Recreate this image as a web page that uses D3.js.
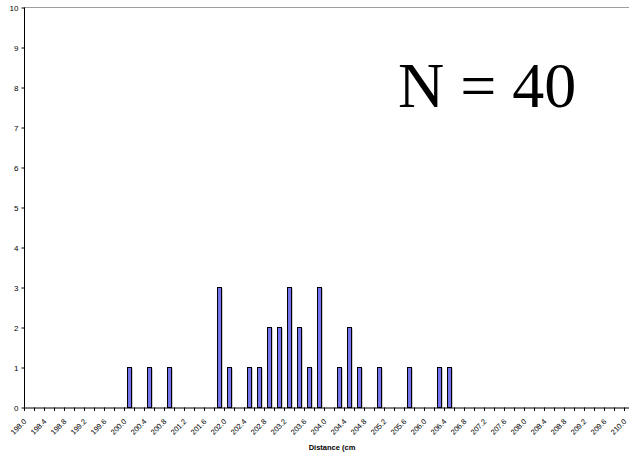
<!DOCTYPE html>
<html><head><meta charset="utf-8">
<script src="https://cdn.jsdelivr.net/npm/d3@7"></script>
<style>html,body{margin:0;padding:0;background:#fff;overflow:hidden}</style>
</head><body>
<script>
const categories = ["198.0","198.2","198.4","198.6","198.8","199.0","199.2","199.4","199.6","199.8",
"200.0","200.2","200.4","200.6","200.8","201.0","201.2","201.4","201.6","201.8",
"202.0","202.2","202.4","202.6","202.8","203.0","203.2","203.4","203.6","203.8",
"204.0","204.2","204.4","204.6","204.8","205.0","205.2","205.4","205.6","205.8",
"206.0","206.2","206.4","206.6","206.8","207.0","207.2","207.4","207.6","207.8",
"208.0","208.2","208.4","208.6","208.8","209.0","209.2","209.4","209.6","209.8","210.0"];
const counts = [0,0,0,0,0,0,0,0,0,0,
1,0,1,0,1,0,0,0,0,3,
1,0,1,1,2,2,3,2,1,3,
0,1,2,1,0,1,0,0,1,0,
0,1,1,0,0,0,0,0,0,0,
0,0,0,0,0,0,0,0,0,0,0];
const yTicks = [0,1,2,3,4,5,6,7,8,9,10];
const tickLabels = categories.filter((c,i)=>i%2===0);
const annotation = "N = 40";
const xTitle = "Distance (cm";

const W=629,H=458;
const svg=d3.select("body").append("svg").attr("width",W).attr("height",H);
const x0=24, xEnd=24+61*10;
const x=d3.scaleBand().domain(categories).range([x0,xEnd]).paddingInner(0.6).paddingOuter(0.3);
const y=d3.scaleLinear().domain([0,10]).range([407.5,7.5]);

// top plot border (grey)
svg.append("line").attr("x1",x0).attr("x2",W).attr("y1",y(10)).attr("y2",y(10)).attr("stroke","#a0a0a0").attr("stroke-width",1);

// bars with shadow
const data=categories.map((c,i)=>({c,v:counts[i]})).filter(d=>d.v>0);
svg.append("g").selectAll("rect").data(data).join("rect")
 .attr("x",d=>x(d.c)+1.5).attr("y",d=>y(d.v)+1).attr("width",x.bandwidth()).attr("height",d=>y(0)-y(d.v)-1)
 .attr("fill","#9a9a9a");
svg.append("g").selectAll("rect").data(data).join("rect")
 .attr("x",d=>x(d.c)+0.5).attr("y",d=>y(d.v)).attr("width",x.bandwidth()).attr("height",d=>y(0)-y(d.v))
 .attr("fill","#7474ee").attr("stroke","#000").attr("stroke-width",1);

// y axis
const ya=svg.append("g").attr("transform",`translate(${x0+0.5},0)`)
 .call(d3.axisLeft(y).tickValues(yTicks).tickSize(3).tickPadding(3).tickFormat(d3.format("d")));
ya.select(".domain").attr("stroke","#000").attr("d",`M0,${y(10)}V${y(0)}`);
ya.selectAll(".tick line").attr("stroke","#000");
ya.selectAll("text").attr("font-family","Liberation Sans, Arial, sans-serif").attr("font-size","8px").attr("fill","#000");

// x axis line and boundary ticks
const bounds=categories.map(c=>x(c)-(x.step()-x.bandwidth())/2).concat([xEnd]);
const xa=svg.append("g");
xa.append("line").attr("x1",x0).attr("x2",W).attr("y1",y(0)+0.5).attr("y2",y(0)+0.5).attr("stroke","#000");
xa.selectAll("line.t").data(bounds).join("line").attr("class","t")
 .attr("x1",d=>d+0.5).attr("x2",d=>d+0.5).attr("y1",y(0)).attr("y2",y(0)+3.5).attr("stroke","#000");

// x labels
svg.append("g").selectAll("text").data(tickLabels).join("text")
 .attr("transform",d=>`translate(${x(d)+x.bandwidth()/2-2},${422}) rotate(-45)`)
 .attr("text-anchor","end").attr("font-family","Liberation Sans, Arial, sans-serif").attr("font-size","7.5px").attr("fill","#000")
 .text(d=>d);

svg.append("text").attr("x",332).attr("y",450).attr("text-anchor","middle")
 .attr("font-family","Liberation Sans, Arial, sans-serif").attr("font-size","7.5px").attr("font-weight","bold").text(xTitle);

svg.append("text").attr("x",398).attr("y",107)
 .attr("font-family","Liberation Serif, Times New Roman, serif").attr("font-size","64px").text(annotation);
</script>
</body></html>
